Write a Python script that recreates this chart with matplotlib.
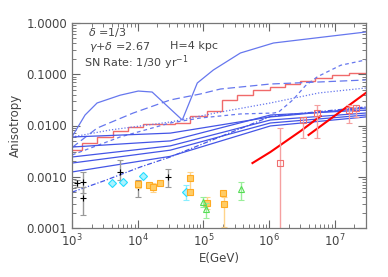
import numpy as np
import matplotlib
matplotlib.use("Agg")
import matplotlib.pyplot as plt
from matplotlib.ticker import LogLocator, NullFormatter

# ---------------- data ----------------
# model curves
v_E = [1000, 1580, 2410, 5400, 10200, 16600, 47800, 80900, 142000, 367000, 1.17e6, 6.8e6, 2.97e7]
v_A = [0.0060, 0.016, 0.0275, 0.039, 0.047, 0.045, 0.0128, 0.0675, 0.121, 0.26, 0.407, 0.533, 0.667]

ld_E = [1000, 2410, 8530, 31300, 90000, 182000, 1.05e6, 5.7e6, 2.97e7]
ld_A = [0.0037, 0.0089, 0.0175, 0.0315, 0.0412, 0.0515, 0.0645, 0.0706, 0.0773]

md_E = [1000, 5400, 31300, 90000, 367000, 1.17e6, 1.40e6, 2.3e6, 3.6e6, 5.5e6, 1.24e7, 2.97e7]
md_A = [0.00266, 0.00597, 0.0112, 0.0140, 0.0168, 0.0175, 0.0183, 0.0315, 0.060, 0.090, 0.150, 0.190]

dot_E = [1000, 3800, 31300, 182000, 1.05e6, 5.7e6, 2.97e7]
dot_A = [0.00597, 0.00817, 0.0117, 0.0183, 0.0275, 0.0431, 0.0539]

bundle_E = [1000, 31300, 1.05e6, 2.97e7]
b1_A = [0.00597, 0.0071, 0.0147, 0.0219]
b2_A = [0.00380, 0.0050, 0.0160, 0.0200]
b3_A = [0.00243, 0.0040, 0.0128, 0.0175]
b4_A = [0.00185, 0.0033, 0.0112, 0.0160]
b5_A = [0.00124, 0.0025, 0.0098, 0.0147]
dd_E = [1000, 3300, 11000, 31300, 1.05e6, 2.97e7]
dd_A = [0.00050, 0.00086, 0.00155, 0.00243, 0.0150, 0.0230]

# step histogram (bin edges and levels)
step_edges = [1000, 1420, 2410, 4230, 7160, 12100, 21900, 37200, 63400, 115000,
              194000, 330000, 579000, 1.05e6, 1.78e6, 3.0e6, 5.1e6, 8.95e6, 1.63e7, 3.0e7]
step_A = [0.0034, 0.0046, 0.0060, 0.0078, 0.0094, 0.0107, 0.0107, 0.0110, 0.0150, 0.0190,
          0.0315, 0.0394, 0.0490, 0.0560, 0.0650, 0.0740, 0.0850, 0.0960, 0.1080]

# thick red lines
ra_E = [5.6e5, 1.05e6, 3.03e6, 6.1e6]
ra_A = [0.00185, 0.00304, 0.0078, 0.0153]
rb_E = [4.0e6, 2.97e7]
rb_A = [0.00653, 0.043]

# measurements
blk_E = [1190, 1470, 1470, 5400, 10200, 29300]
blk_A = [0.00076, 0.00079, 0.00038, 0.00124, 0.00063, 0.00099]
blk_lo = [0.00063, 0.00048, 0.00018, 0.00086, 0.00040, 0.00063]
blk_hi = [0.00086, 0.00124, 0.00063, 0.00212, 0.00086, 0.00142]

cy_E = [4080, 6010, 12100, 55000]
cy_A = [0.00076, 0.00079, 0.00104, 0.00050]
cy_lo = [0.00076, 0.00079, 0.00104, 0.00035]
cy_hi = [0.00076, 0.00079, 0.00104, 0.00069]

or_E = [10200, 15000, 17300, 22100, 62000, 62000, 115000, 202000, 210000]
or_A = [0.00072, 0.00069, 0.00063, 0.00076, 0.00095, 0.00050, 0.00031, 0.00048, 0.00029]
or_lo = [0.00061, 0.00063, 0.00050, 0.00070, 0.00055, 0.00045, 0.00023, 0.00044, 0.000105]
or_hi = [0.00083, 0.00075, 0.00076, 0.00082, 0.00124, 0.00055, 0.00040, 0.00053, 0.00040]

gr_E = [100000, 111000, 380000]
gr_A = [0.00032, 0.00023, 0.00058]
gr_lo = [0.00026, 0.00016, 0.00035]
gr_hi = [0.00040, 0.00031, 0.00079]

rs_E = [1.45e6, 3.24e6, 5.3e6, 1.64e7, 2.09e7]
rs_A = [0.00185, 0.0128, 0.0175, 0.0200, 0.0219]
rs_lo = [1e-6, 0.0057, 0.0057, 0.0112, 0.0147]
rs_hi = [0.0089, 0.0147, 0.0251, 0.0251, 0.0251]

xticks = [1e3, 1e4, 1e5, 1e6, 1e7]
xlabels = [r"10$^{3}$", r"10$^{4}$", r"10$^{5}$", r"10$^{6}$", r"10$^{7}$"]
yticks = [1e-4, 1e-3, 1e-2, 1e-1, 1]
ylabels = ["0.0001", "0.0010", "0.0100", "0.1000", "1.0000"]

# ---------------- plot ----------------
plt.rcParams['font.family'] = ['DejaVu Sans']
txt = '#444444'
fig = plt.figure(figsize=(3.88, 2.77), dpi=100)
ax = fig.add_axes([72/388, 49/277, 294/388, 205/277])
ax.set_xscale('log'); ax.set_yscale('log')
ax.set_xlim(1e3, 3e7); ax.set_ylim(1e-4, 1.0)

blue_l = '#6677ee'
blue_d = '#4455e6'
lw = 0.9
ax.plot(v_E, v_A, color=blue_l, lw=lw)
ax.plot(ld_E, ld_A, color=blue_l, lw=lw, dashes=(6, 3))
ax.plot(md_E, md_A, color=blue_l, lw=lw, dashes=(3, 2.5))
ax.plot(dot_E, dot_A, color=blue_l, lw=lw, dashes=(1, 1.5))
for a in (b1_A, b2_A, b3_A, b4_A, b5_A):
    ax.plot(bundle_E, a, color=blue_d, lw=lw)
ax.plot(dd_E, dd_A, color=blue_d, lw=lw, dashes=(4, 1.5, 1, 1.5))

ax.stairs(step_A, step_edges, color='#f06a6a', lw=1.0, baseline=None)

ax.plot(ra_E, ra_A, color='red', lw=1.5)
ax.plot(rb_E, rb_A, color='red', lw=1.5)

def eb(E, A, lo, hi, ecol, mcol, marker, ms, mfc, mew=0.8):
    A = np.array(A); lo = np.array(lo); hi = np.array(hi)
    ax.errorbar(E, A, yerr=[A - lo, hi - A], fmt='none', ecolor=ecol, elinewidth=1.0,
                capsize=2, capthick=0.8)
    ax.plot(E, A, ls='none', marker=marker, ms=ms, mfc=mfc, mec=mcol, mew=mew)

eb(rs_E, rs_A, rs_lo, rs_hi, '#f5a0a0', '#f07070', 's', 5, 'none')
eb(blk_E, blk_A, blk_lo, blk_hi, '#999999', 'black', '+', 5, 'none')
eb(cy_E, cy_A, cy_lo, cy_hi, '#88eeff', '#22ddff', 'D', 4, '#aaf2ff')
eb(or_E, or_A, or_lo, or_hi, '#ffd48a', '#ffaa22', 's', 4, '#ffcc66')
eb(gr_E, gr_A, gr_lo, gr_hi, '#99ee99', '#55dd55', '^', 5, 'none')

ax.set_xticks(xticks); ax.set_xticklabels(xlabels)
ax.set_yticks(yticks); ax.set_yticklabels(ylabels)
ax.xaxis.set_minor_locator(LogLocator(base=10, subs=np.arange(2, 10), numticks=20))
ax.yaxis.set_minor_locator(LogLocator(base=10, subs=np.arange(2, 10), numticks=20))
ax.xaxis.set_minor_formatter(NullFormatter()); ax.yaxis.set_minor_formatter(NullFormatter())
ax.tick_params(which='both', direction='in', top=True, right=True, colors='#666666',
               labelcolor=txt, labelsize=8.5)
ax.tick_params(which='major', length=6, width=0.8)
ax.tick_params(which='minor', length=3, width=0.6)
for s in ax.spines.values():
    s.set_color('#777777'); s.set_linewidth(0.9)

ax.set_xlabel('E(GeV)', color=txt, fontsize=8.5, labelpad=2)
ax.set_ylabel('Anisotropy', color=txt, fontsize=8.5, labelpad=3)

ax.text(0.054, 0.953, r'$\delta$ =1/3', transform=ax.transAxes, color=txt, fontsize=8, va='center')
ax.text(0.058, 0.884, r'$\gamma$+$\delta$ =2.67', transform=ax.transAxes, color=txt, fontsize=8, va='center')
ax.text(0.333, 0.888, 'H=4 kpc', transform=ax.transAxes, color=txt, fontsize=8, va='center')
ax.text(0.041, 0.805, r'SN Rate: 1/30 yr$^{-1}$', transform=ax.transAxes, color=txt, fontsize=8, va='center')

fig.savefig('out.png', dpi=100)
